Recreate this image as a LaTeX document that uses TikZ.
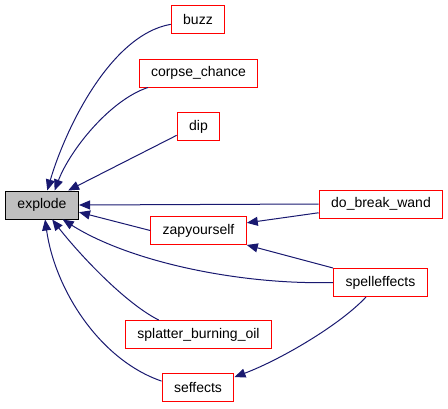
\documentclass[tikz,border=0pt]{standalone}
\usepackage{fontspec}
\setmainfont{Liberation Sans}
\usetikzlibrary{arrows.meta}
\definecolor{edgeblue}{RGB}{25,25,112}
\tikzset{fn/.style={draw=red, line width=1pt, rectangle, minimum height=28pt, inner xsep=12pt, inner ysep=0pt, font=\fontsize{14}{16}\selectfont},
        root/.style={fn, draw=black, fill=black!25},
        call/.style={draw=edgeblue, line width=1pt, -{Triangle[length=11pt,width=9pt]}}}

\begin{document}
\begin{tikzpicture}[x=1pt,y=-1pt]
        \useasboundingbox (0,0) rectangle (448,408);

        \node[root] (explode) at (42,205) {explode};
        \node[fn] (buzz) at (198,19.5) {buzz};
        \node[fn] (corpse_chance) at (198.5,73) {corpse\_chance};
        \node[fn] (dip) at (198.5,126.5) {dip};
        \node[fn] (do_break_wand) at (381,204) {do\_break\_wand};
        \node[fn] (zapyourself) at (198.5,230.5) {zapyourself};
        \node[fn] (spelleffects) at (380.5,282.5) {spelleffects};
        \node[fn] (splatter) at (198.5,334.5) {splatter\_burning\_oil};
        \node[fn] (seffects) at (198,387.5) {seffects};

        \draw[call] (buzz.190) .. controls (110,35) and (65,130) .. (explode.70);
        \draw[call] (corpse_chance.196) .. controls (110,100) and (70,150) .. (explode.49);
        \draw[call] (dip.202) -- (explode.29);
        \draw[call] (do_break_wand.west) -- (explode.east);
        \draw[call] (zapyourself.west) -- (explode.-11);
        \draw[call] (spelleffects.west) .. controls (240,285) and (130,262) .. (explode.325);
        \draw[call] (splatter.160) .. controls (125,303) and (80,255) .. (explode.305);
        \draw[call] (seffects.170) .. controls (100,360) and (55,290) .. (explode.282);

        \draw[call] (do_break_wand.188) -- (zapyourself.9);
        \draw[call] (spelleffects.163) -- (zapyourself.south east);
        \draw[call] (spelleffects.225) .. controls (340,325) and (280,360) .. (seffects.16);
      \end{tikzpicture}
\end{document}
